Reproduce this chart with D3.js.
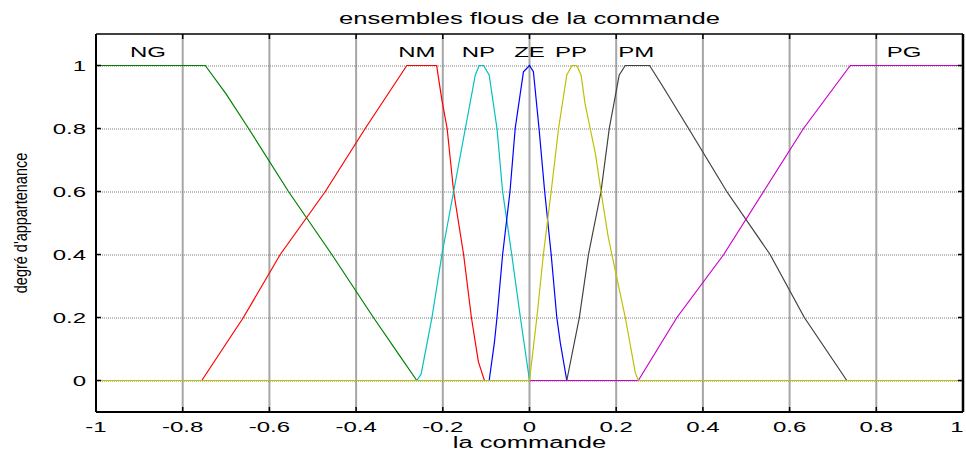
<!DOCTYPE html>
<html lang="fr">

<head>
    <meta charset="UTF-8">
    <title>ensembles flous de la commande</title>
    <script src="https://d3js.org/d3.v7.min.js"></script>
    <style>
        body {
            margin: 0;
            background: white;
        }

        text {
            font-family: Arial, "Liberation Sans", sans-serif;
            fill: black;
        }

        .vgrid {
            stroke: #a6a6a6;
            stroke-width: 2px;
        }

        .hgrid {
            stroke: #7a7a7a;
            stroke-width: 1px;
            stroke-dasharray: 1, 1;
        }

        .mf {
            fill: none;
            stroke-width: 1.2px;
        }
    </style>
</head>

<body>
    <svg width="966" height="453"></svg>

    <script>
        // ticks
        const xTicks = [-1, -0.8, -0.6, -0.4, -0.2, 0, 0.2, 0.4, 0.6, 0.8, 1];
        const yTicks = [0, 0.2, 0.4, 0.6, 0.8, 1];

        // fuzzy sets: names, label position (x) and membership points [x, mu]
        const setNames = ["NG", "NM", "NP", "ZE", "PP", "PM", "PG"];
        const labelX = [-0.88, -0.26, -0.118, 0, 0.096, 0.246, 0.864];

        const NG = [[-1, 1], [-0.748, 1], [-0.7, 0.91], [-0.648, 0.8], [-0.556, 0.6], [-0.456, 0.4], [-0.36, 0.2],
            [-0.3, 0.08], [-0.26, 0], [1, 0]];
        const NM = [[-1, 0], [-0.756, 0], [-0.66, 0.2], [-0.575, 0.4], [-0.471, 0.6], [-0.379, 0.8], [-0.283, 1],
            [-0.214, 1], [-0.211, 0.97], [-0.202, 0.89], [-0.19, 0.8], [-0.175, 0.6], [-0.152, 0.4], [-0.134, 0.2],
            [-0.118, 0.06], [-0.104, 0], [1, 0]];
        const NP = [[-1, 0], [-0.26, 0], [-0.25, 0.02], [-0.225, 0.2], [-0.202, 0.4], [-0.175, 0.6], [-0.148, 0.8],
            [-0.125, 0.97], [-0.116, 1], [-0.106, 1], [-0.093, 0.97], [-0.075, 0.8], [-0.062, 0.6], [-0.041, 0.4],
            [-0.021, 0.2], [0, 0], [1, 0]];
        const ZE = [[-1, 0], [-0.093, 0], [-0.081, 0.12], [-0.075, 0.2], [-0.062, 0.4], [-0.045, 0.6], [-0.033, 0.8],
            [-0.014, 0.98], [0, 1], [0.009, 0.98], [0.022, 0.8], [0.035, 0.6], [0.05, 0.4], [0.063, 0.2],
            [0.071, 0.12], [0.086, 0], [1, 0]];
        const PP = [[-1, 0], [0, 0], [0.017, 0.2], [0.032, 0.4], [0.05, 0.6], [0.067, 0.8], [0.086, 0.97],
            [0.098, 1], [0.109, 1], [0.119, 0.97], [0.128, 0.88], [0.14, 0.8], [0.152, 0.72], [0.165, 0.6],
            [0.181, 0.46], [0.19, 0.4], [0.221, 0.2], [0.244, 0.025], [0.251, 0], [1, 0]];
        const PM = [[-1, 0], [0.086, 0], [0.115, 0.2], [0.136, 0.4], [0.165, 0.6], [0.184, 0.8], [0.207, 0.97],
            [0.221, 1], [0.277, 1], [0.309, 0.93], [0.367, 0.8], [0.455, 0.6], [0.555, 0.4], [0.634, 0.2],
            [0.732, 0], [1, 0]];
        const PG = [[-1, 0], [0.251, 0], [0.34, 0.2], [0.448, 0.4], [0.54, 0.6], [0.632, 0.8], [0.74, 1], [1, 1]];

        // drawn in this order, so PP's zero line ends up on top as in the picture
        const series = [NG, NM, NP, ZE, PM, PG, PP];
        const colors = ["#008000", "#ff0000", "#00c0c0", "#0000ff", "#404040", "#cc00cc", "#c0c000"];

        const x0 = 96, x1 = 963, y0 = 34, y1 = 412;
        const sx = 1.6; // text is drawn wide, like in the picture

        const x = d3.scaleLinear().domain([-1, 1]).range([x0, x1]);
        const y = d3.scaleLinear().domain([-0.1, 1.1]).range([y1, y0]);

        const svg = d3.select("svg");

        // grid
        svg.selectAll(".vgrid").data(xTicks.slice(1, -1)).enter().append("line")
            .attr("class", "vgrid")
            .attr("x1", d => x(d)).attr("x2", d => x(d))
            .attr("y1", y0).attr("y2", y1);

        svg.selectAll(".hgrid").data(yTicks).enter().append("line")
            .attr("class", "hgrid")
            .attr("x1", x0).attr("x2", x1)
            .attr("y1", d => y(d) + 0.5).attr("y2", d => y(d) + 0.5);

        // membership functions
        const line = d3.line().x(d => x(d[0])).y(d => y(d[1]));
        svg.selectAll(".mf").data(series).enter().append("path")
            .attr("class", "mf")
            .attr("d", line)
            .attr("stroke", (d, i) => colors[i]);

        // axes box
        svg.append("line").attr("x1", x0).attr("x2", x1).attr("y1", y0).attr("y2", y0)
            .attr("stroke", "black").attr("stroke-width", 1.5);
        svg.append("line").attr("x1", x0).attr("x2", x1).attr("y1", y1).attr("y2", y1)
            .attr("stroke", "black").attr("stroke-width", 2);
        svg.append("line").attr("x1", x0).attr("x2", x0).attr("y1", y0).attr("y2", y1)
            .attr("stroke", "black").attr("stroke-width", 2);
        svg.append("line").attr("x1", x1).attr("x2", x1).attr("y1", y0).attr("y2", y1)
            .attr("stroke", "black").attr("stroke-width", 2.5);

        // inner ticks
        const tk = 5;
        xTicks.forEach(t => {
            svg.append("line").attr("x1", x(t)).attr("x2", x(t)).attr("y1", y1).attr("y2", y1 - tk)
                .attr("stroke", "black").attr("stroke-width", 1.5);
            svg.append("line").attr("x1", x(t)).attr("x2", x(t)).attr("y1", y0).attr("y2", y0 + tk)
                .attr("stroke", "black").attr("stroke-width", 1.5);
        });
        yTicks.forEach(t => {
            svg.append("line").attr("x1", x0).attr("x2", x0 + tk).attr("y1", y(t)).attr("y2", y(t))
                .attr("stroke", "black").attr("stroke-width", 1.5);
            svg.append("line").attr("x1", x1).attr("x2", x1 - tk).attr("y1", y(t)).attr("y2", y(t))
                .attr("stroke", "black").attr("stroke-width", 1.5);
        });

        // tick labels
        const fmt = d => d === 0 ? "0" : String(d);
        svg.selectAll(".xtl").data(xTicks).enter().append("text")
            .attr("class", "xtl")
            .attr("transform", d => `translate(${Math.min(x(d), 957)},431.5) scale(${sx},1)`)
            .attr("text-anchor", "middle")
            .style("font-size", "15px")
            .text(fmt);

        svg.selectAll(".ytl").data(yTicks).enter().append("text")
            .attr("class", "ytl")
            .attr("transform", d => `translate(86,${y(d) + 5.4}) scale(${sx},1)`)
            .attr("text-anchor", "end")
            .style("font-size", "15px")
            .text(fmt);

        // set names
        svg.selectAll(".setname").data(setNames).enter().append("text")
            .attr("class", "setname")
            .attr("transform", (d, i) => `translate(${x(labelX[i])},57) scale(${sx},1)`)
            .attr("text-anchor", "middle")
            .style("font-size", "15px")
            .text(d => d);

        // title and axis labels
        svg.append("text")
            .attr("transform", `translate(${(x0 + x1) / 2},24) scale(${sx},1)`)
            .attr("text-anchor", "middle")
            .style("font-size", "16px")
            .text("ensembles flous de la commande");

        svg.append("text")
            .attr("transform", `translate(${(x0 + x1) / 2},448) scale(${sx},1)`)
            .attr("text-anchor", "middle")
            .style("font-size", "16px")
            .text("la commande");

        svg.append("text")
            .attr("transform", `translate(27,${(y0 + y1) / 2}) scale(1.3,1) rotate(-90)`)
            .attr("text-anchor", "middle")
            .style("font-size", "14.5px")
            .text("degré d'appartenance");
    </script>
</body>

</html>
